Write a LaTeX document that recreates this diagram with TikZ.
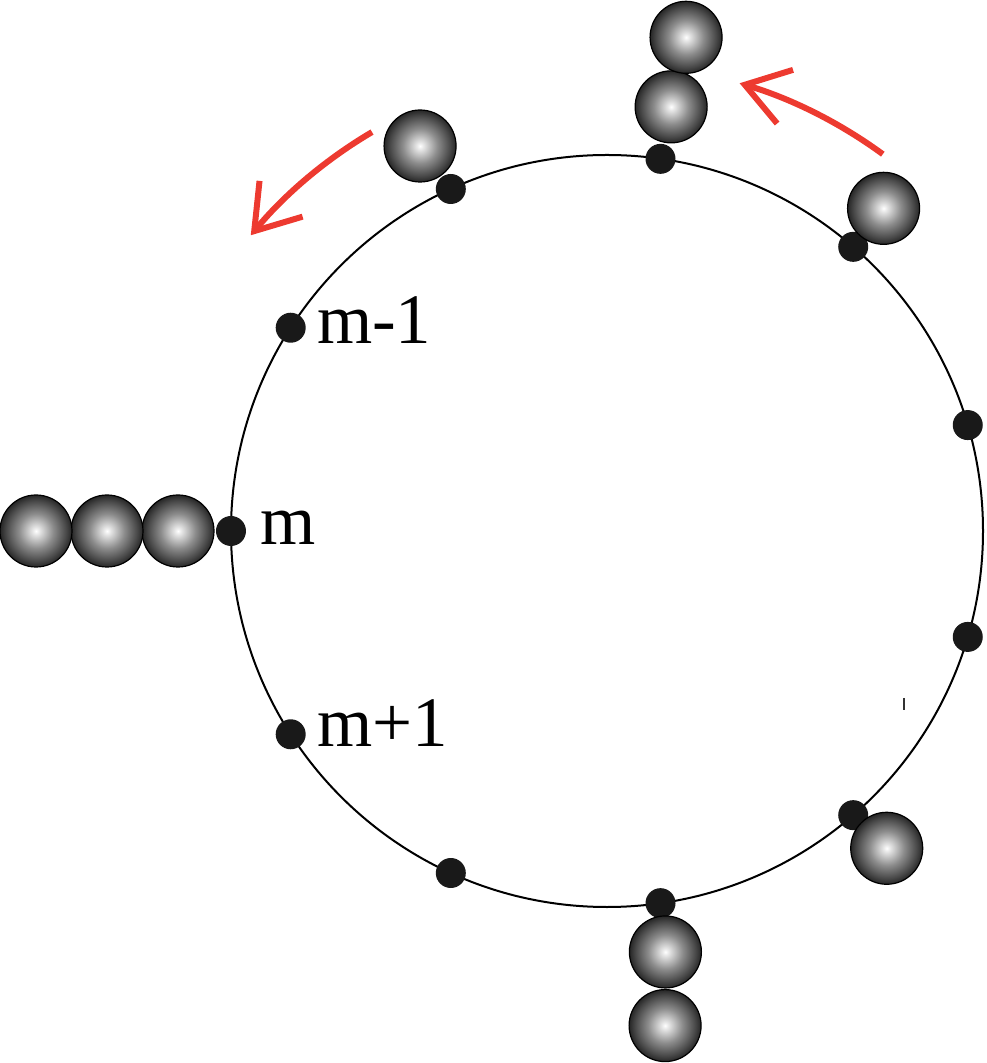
\documentclass[tikz,border=0pt]{standalone}
\usepackage{fontspec}
\setmainfont{Liberation Serif}
\usetikzlibrary{arrows.meta}
\pgfdeclareradialshading{sphere}{\pgfpoint{0bp}{0bp}}{color(0bp)=(white); color(2bp)=(black!8); color(12bp)=(black!45); color(21bp)=(black!72); color(25bp)=(black!85); color(50bp)=(black!85)}
\colorlet{ringcol}{black}
\colorlet{sitecol}{black!90}
\definecolor{flowcol}{RGB}{237,58,48}
\tikzset{
  site/.style={circle, fill=sitecol, inner sep=0pt, minimum size=15pt},
  ball/.style={circle, draw=black, line width=0.6pt, shading=sphere, inner sep=0pt, minimum size=36pt},
  sitelabel/.style={anchor=base west, inner sep=0pt, font=\fontsize{35.5}{40}\selectfont},
  flow/.style={line width=3pt, flowcol, -{Straight Barb[length=21pt, width=28pt]}}
}

\begin{document}
\begin{tikzpicture}[x=0.5pt, y=0.5pt]

  \useasboundingbox (-607,-532) rectangle (379,531);

  % Ring.
  \draw[ringcol, line width=1pt] (0,0) circle[radius=376];

  % Sites, d0 is site m.
  \foreach \k in {0,...,10} {
    \node[site] (d\k) at ({180-\k*360/11}:376) {};
  }

  % Balls stacked on the sites (angle/radius).
  \foreach \a/\r [count=\i] in {180/429, 180/500, 180/571, 115.9/428,
      81.4/429, 80.9/500, 49.4/425, 311.4/423, 277.9/425, 276.7/498} {
    \node[ball] (b\i) at (\a:\r) {};
  }

  % Site labels.
  \node[sitelabel, xshift=14.5pt, yshift=-7pt] (lm) at (d0) {m};
  \node[sitelabel, xshift=13pt, yshift=-8pt] (lmm) at (d1) {m-1};
  \node[sitelabel, xshift=13pt, yshift=-6pt] (lmp) at (d10) {m+1};

  % Hopping arrows.
  \coordinate (f1) at (53.8:467);
  \draw[flow] (f1) arc[start angle=53.8, end angle=73.5, radius=467];
  \coordinate (f2) at (120.5:463);
  \draw[flow] (f2) arc[start angle=120.5, end angle=140.3, radius=463];

  % Small tick.
  \draw[black!80, line width=0.7pt] (297,-167) -- (297,-179);

\end{tikzpicture}
\end{document}
